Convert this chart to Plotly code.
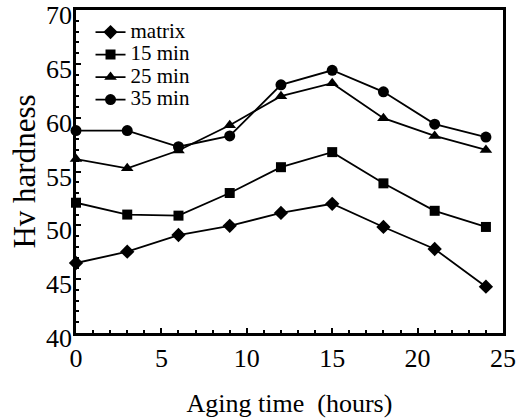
import plotly.graph_objects as go

aging_hours = [0, 3, 6, 9, 12, 15, 18, 21, 24]
matrix = [46.5, 47.55, 49.1, 49.95, 51.15, 52.0, 49.85, 47.8, 44.3]
min15 = [52.1, 51.0, 50.9, 53.0, 55.4, 56.8, 53.9, 51.35, 49.85]
min25 = [56.15, 55.3, 56.95, 59.3, 62.0, 63.2, 59.95, 58.3, 57.0]
min35 = [58.8, 58.8, 57.3, 58.3, 63.05, 64.4, 62.4, 59.4, 58.2]

series = [
    ("matrix", matrix, "diamond", 11),
    ("15 min", min15, "square", 10),
    ("25 min", min25, "triangle-up", 11),
    ("35 min", min35, "circle", 11),
]

font_family = "Liberation Serif"

fig = go.Figure()
for name, vals, sym, sz in series:
    fig.add_trace(go.Scatter(
        x=aging_hours, y=vals, mode="lines+markers",
        name='<span style="font-size:21px">%s</span>' % name,
        line=dict(color="black", width=1.8),
        marker=dict(symbol=sym, size=sz, color="black"),
        cliponaxis=False,
    ))

fig.update_layout(
    width=516, height=420,
    margin=dict(l=76, r=13, t=10, b=87, autoexpand=False),
    paper_bgcolor="white", plot_bgcolor="white",
    font=dict(family=font_family, color="black", size=22),
    showlegend=True,
    legend=dict(x=0.034, y=0.982, xanchor="left", yanchor="top",
                bgcolor="rgba(0,0,0,0)", font=dict(size=15, family=font_family),
                itemwidth=30, tracegroupgap=0),
    xaxis=dict(range=[0, 25], dtick=5, tick0=0, showgrid=False, zeroline=False,
               showline=True, linecolor="black", linewidth=2.5, mirror=True,
               ticks="inside", ticklen=5, tickwidth=2, tickcolor="black",
               minor=dict(dtick=1, ticks="inside", ticklen=3, tickwidth=1.5, tickcolor="black"),
               tickfont=dict(size=26, family=font_family), ticklabeloverflow="allow",
               automargin=False,
               title=dict(text="Aging time\u00a0 (hours)", font=dict(size=26, family=font_family), standoff=22)),
    yaxis=dict(range=[40, 70], dtick=5, tick0=40, showgrid=False, zeroline=False,
               showline=True, linecolor="black", linewidth=2.5, mirror=True,
               ticks="inside", ticklen=5, tickwidth=2, tickcolor="black",
               minor=dict(dtick=1, ticks="inside", ticklen=3, tickwidth=1.5, tickcolor="black"),
               tickfont=dict(size=26, family=font_family), ticklabelstandoff=-4,
               ticklabelshift=5,
               ticklabeloverflow="allow", automargin=False,
               title=dict(text="Hv hardness", font=dict(size=31, family=font_family), standoff=2)),
)

fig.write_html("out.html")
